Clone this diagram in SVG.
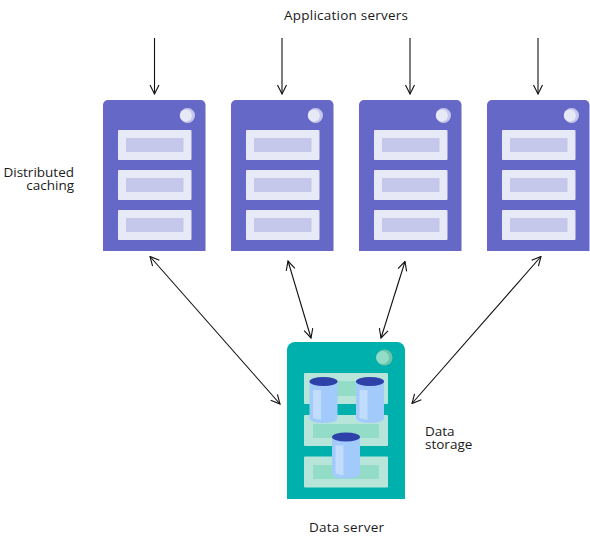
<svg xmlns="http://www.w3.org/2000/svg" width="590" height="545" viewBox="0 0 590 545">
<style>
text{font-family:"Open Sans","Noto Sans",sans-serif;font-size:13.500px;fill:#1a1a1a}
.body{fill:#6568c6}.row{fill:#e8e9f7}.in{fill:#c5c8ea}
.dbody{fill:#00b0ad}.drow{fill:#b8e5da}.din{fill:#93dcc8}
.line{fill:none;stroke:#111;stroke-width:1.1}
.cyl{fill:#a2cbfb}.hi{fill:#c2dcfc}.top{fill:#2d41a8}
</style>
<defs>
<marker id="open" viewBox="0 0 12 12" refX="11" refY="6" markerWidth="12" markerHeight="12" markerUnits="userSpaceOnUse" orient="auto-start-reverse"><path d="M2 1.500L11 6L2 10.500" fill="none" stroke="#111" stroke-width="1.1"/></marker>
<g id="srv">
<path class="body" d="M0 5a5 5 0 0 1 5-5h92.500a5 5 0 0 1 5 5V151H0Z"/>
<circle cx="84.500" cy="15.500" r="7.500" fill="#c5c8ea"/><circle cx="82.800" cy="15.500" r="6" fill="#e8e9f7"/>
<rect class="row" x="15" y="30" width="73.500" height="30" rx="1"/><rect class="in" x="23" y="38" width="57.500" height="14"/>
<rect class="row" x="15" y="70" width="73.500" height="30" rx="1"/><rect class="in" x="23" y="78" width="57.500" height="14"/>
<rect class="row" x="15" y="110" width="73.500" height="30" rx="1"/><rect class="in" x="23" y="118" width="57.500" height="14"/>
</g>
<g id="cyl">
<path class="cyl" d="M0 4.500V41c0 3 6 5 14 5s14-2 14-5V4.500Z"/>
<path class="hi" d="M3.500 13h8V43L3.500 41Z"/>
<ellipse class="top" cx="14" cy="4.500" rx="14" ry="4.500"/>
</g>
</defs>
<g id="connectors">
<path class="line" marker-end="url(#open)" d="M154.500 38V94"/>
<path class="line" marker-end="url(#open)" d="M282 38V94"/>
<path class="line" marker-end="url(#open)" d="M410 38V94"/>
<path class="line" marker-end="url(#open)" d="M538 38V94"/>
<path class="line" marker-start="url(#open)" marker-end="url(#open)" d="M150 256.500L280 404"/>
<path class="line" marker-start="url(#open)" marker-end="url(#open)" d="M288 261L311 338"/>
<path class="line" marker-start="url(#open)" marker-end="url(#open)" d="M405 261.500L381 338"/>
<path class="line" marker-start="url(#open)" marker-end="url(#open)" d="M541 256.500L412 403.500"/>
</g>
<g id="server-1"><use href="#srv" x="103" y="100"/></g>
<g id="server-2"><use href="#srv" x="231" y="100"/></g>
<g id="server-3"><use href="#srv" x="359" y="100"/></g>
<g id="server-4"><use href="#srv" x="487" y="100"/></g>
<g id="data-server">
<path class="dbody" d="M287 350a8 8 0 0 1 8-8h102a8 8 0 0 1 8 8V499H287Z"/>
<circle cx="384.500" cy="357.500" r="8" fill="#6cc5a9"/><circle cx="382.500" cy="357.500" r="6.500" fill="#93dcc8"/>
<rect class="drow" x="304" y="373" width="84" height="31" rx="1"/><rect class="din" x="313" y="381" width="66" height="15"/>
<rect class="drow" x="304" y="415" width="84" height="31" rx="1"/><rect class="din" x="313" y="424" width="66" height="14"/>
<rect class="drow" x="304" y="456.500" width="84" height="31" rx="1"/><rect class="din" x="313" y="465" width="66" height="14"/>
<use href="#cyl" x="309.500" y="377"/>
<use href="#cyl" x="356" y="377"/>
<use href="#cyl" x="332" y="432.500"/>
</g>
<g id="labels">
<text x="284" y="19.500" textLength="124">Application servers</text>
<text text-anchor="end"><tspan x="74" y="176.500">Distributed</tspan><tspan x="74" y="190">caching</tspan></text>
<text><tspan x="425" y="435.500">Data</tspan><tspan x="425" y="448.500">storage</tspan></text>
<text x="309" y="531.500" textLength="75">Data server</text>
</g>
</svg>
